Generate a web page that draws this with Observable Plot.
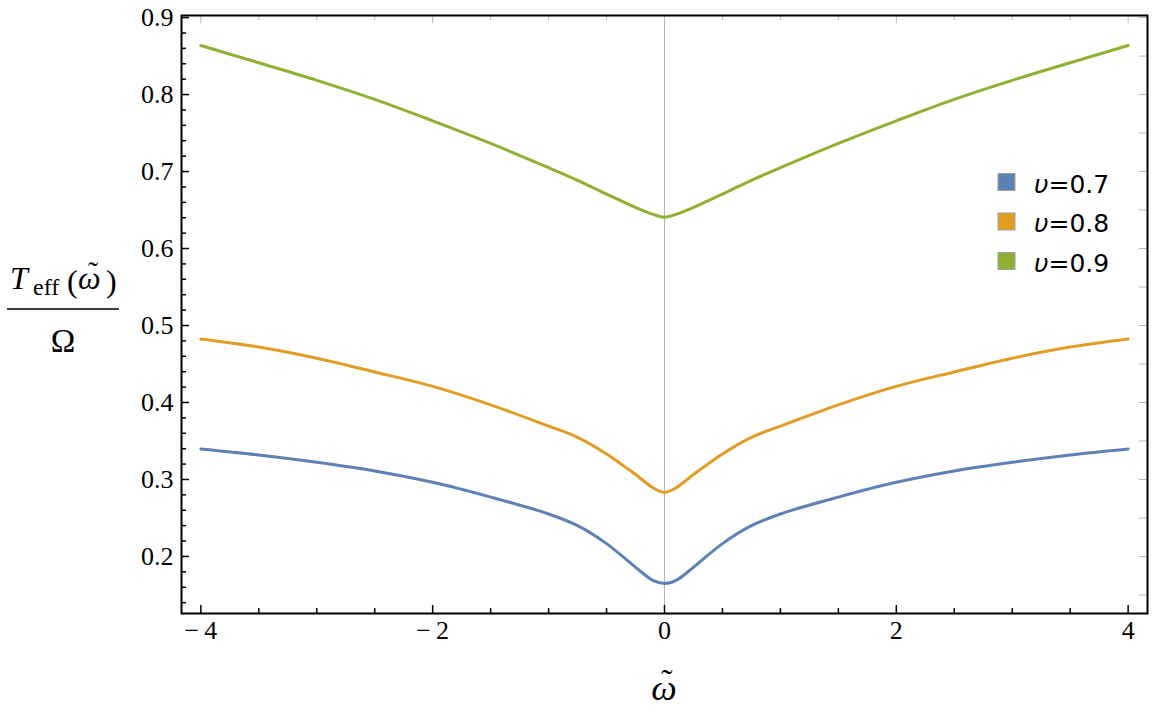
<!DOCTYPE html>
<html><head><meta charset="utf-8">
<script src="https://cdn.jsdelivr.net/npm/d3@7"></script>
<script src="https://cdn.jsdelivr.net/npm/@observablehq/plot@0.6"></script>
<style>body{margin:0;background:#fff;} #chart{width:1159px;height:719px;}</style>
</head><body><div id="chart"></div>
<script>
// ---- data ----
const omega = [-4, -3.5, -3, -2.5, -2, -1.5, -1, -0.75, -0.5, -0.25, -0.1, 0, 0.1, 0.25, 0.5, 0.75, 1, 1.5, 2, 2.5, 3, 3.5, 4];
const teffV07 = [0.3396, 0.3318, 0.3223, 0.3110, 0.2963, 0.2771, 0.2552, 0.2400, 0.2167, 0.1860, 0.1690, 0.1650, 0.1690, 0.1860, 0.2167, 0.2400, 0.2552, 0.2771, 0.2963, 0.3110, 0.3223, 0.3318, 0.3396];
const teffV08 = [0.4825, 0.4720, 0.4575, 0.4397, 0.4209, 0.3970, 0.3693, 0.3548, 0.3332, 0.3064, 0.2893, 0.2832, 0.2893, 0.3064, 0.3332, 0.3548, 0.3693, 0.3970, 0.4209, 0.4397, 0.4575, 0.4720, 0.4825];
const teffV09 = [0.8637, 0.8413, 0.8185, 0.7938, 0.7659, 0.7366, 0.7050, 0.6886, 0.6708, 0.6533, 0.6443, 0.6406, 0.6443, 0.6533, 0.6708, 0.6886, 0.7050, 0.7366, 0.7659, 0.7938, 0.8185, 0.8413, 0.8637];
const seriesNames = ["υ=0.7", "υ=0.8", "υ=0.9"];
const seriesColors = ["#5e81b5", "#e19c24", "#8fb032"];
const xMajorTicks = [-4, -2, 0, 2, 4];
const xMinorTicks = [-3.5, -3, -2.5, -1.5, -1, -0.5, 0.5, 1, 1.5, 2.5, 3, 3.5];
const yMajorTicks = [0.2, 0.3, 0.4, 0.5, 0.6, 0.7, 0.8, 0.9];
const yMinorTicks = [0.14, 0.16, 0.18, 0.22, 0.24, 0.26, 0.28, 0.32, 0.34, 0.36, 0.38, 0.42, 0.44, 0.46, 0.48, 0.52, 0.54, 0.56, 0.58, 0.62, 0.64, 0.66, 0.68, 0.72, 0.74, 0.76, 0.78, 0.82, 0.84, 0.86, 0.88];
const yRightTicks = [0.15, 0.2, 0.25, 0.3, 0.35, 0.4, 0.45, 0.5, 0.55, 0.6, 0.65, 0.7, 0.75, 0.8, 0.85, 0.9];

const seriesValues = [teffV07, teffV08, teffV09];
const rows = seriesNames.flatMap((s, i) => omega.map((w, j) => ({w, t: seriesValues[i][j], s})));

const W = 1159, H = 719, mL = 181, mR = 12, mT = 15, mB = 106;
const plotW = W - mL - mR, plotH = H - mT - mB;
const serif = "'Liberation Serif', 'DejaVu Serif', serif";
const fmtX = d => d < 0 ? "\u2212\u2009" + Math.abs(d) : String(d);
const fmtY = d => d.toFixed(1);

const chart = Plot.plot({
  width: W, height: H,
  marginLeft: mL, marginRight: mR, marginTop: mT, marginBottom: mB,
  style: {background: "white", fontFamily: serif},
  x: {domain: [-4.167, 4.167], axis: null},
  y: {domain: [0.1259, 0.9027], axis: null},
  color: {domain: seriesNames, range: seriesColors},
  marks: [
    Plot.ruleX([0], {stroke: "#b4b4b4", strokeWidth: 1}),
    Plot.line(rows, {x: "w", y: "t", z: "s", stroke: "s", strokeWidth: 3, curve: "catmull-rom"}),
    Plot.tickX(xMajorTicks, {x: d => d, stroke: "black", strokeWidth: 1.5, insetTop: plotH - 8}),
    Plot.tickX(xMinorTicks, {x: d => d, stroke: "black", strokeWidth: 1.5, insetTop: plotH - 5}),
    Plot.tickX(xMajorTicks, {x: d => d, stroke: "#b8b8b8", strokeWidth: 1, insetBottom: plotH - 8}),
    Plot.tickX(xMinorTicks, {x: d => d, stroke: "#b8b8b8", strokeWidth: 1, insetBottom: plotH - 5}),
    Plot.tickY(yMajorTicks, {y: d => d, stroke: "black", strokeWidth: 1.5, insetRight: plotW - 8}),
    Plot.tickY(yMinorTicks, {y: d => d, stroke: "black", strokeWidth: 1.5, insetRight: plotW - 5}),
    Plot.tickY(yRightTicks, {y: d => d, stroke: "#b8b8b8", strokeWidth: 1, insetLeft: plotW - 8}),
    Plot.frame({stroke: "black", strokeWidth: 2}),
    Plot.text(xMajorTicks, {x: d => d, frameAnchor: "bottom", dy: 25, text: fmtX, fontSize: 26, fontFamily: serif, fill: "black"}),
    Plot.text(yMajorTicks, {y: d => d, frameAnchor: "left", textAnchor: "end", dx: -8, text: fmtY, fontSize: 26, fontFamily: serif, fill: "black"})
  ]
});
document.getElementById("chart").appendChild(chart);

const svg = d3.select(chart);
const lab = svg.append("g").attr("font-family", serif).attr("fill", "black").attr("text-anchor", "start");
function put(txt, x, y, size, italic, anchor) {
  return lab.append("text").attr("x", x).attr("y", y).attr("font-size", size)
    .attr("font-style", italic ? "italic" : "normal").attr("text-anchor", anchor || "start").text(txt);
}
// y-axis label: T_eff(ω̃) / Ω
put("T", 10, 289, 32, true);
put("eff", 33, 295, 24, false);
put("(", 67, 292, 32, false);
put("ω", 78, 289, 32, true);
put("\u02DC", 93, 282, 30, false, "middle");
put(")", 106, 292, 32, false);
lab.append("line").attr("x1", 7).attr("x2", 119).attr("y1", 309).attr("y2", 309).attr("stroke", "black").attr("stroke-width", 1.6);
put("Ω", 63, 352, 33, false, "middle");
// x-axis label ω̃
put("ω", 664, 700, 36, true, "middle");
put("\u02DC", 667, 693, 34, false, "middle");

// legend
const leg = svg.append("g").attr("font-family", "'DejaVu Sans', sans-serif").attr("font-size", 25).attr("text-anchor", "start");
seriesNames.forEach((s, i) => {
  const y0 = 173.5 + i * 39.5;
  leg.append("rect").attr("x", 998).attr("y", y0).attr("width", 17).attr("height", 17)
    .attr("fill", seriesColors[i]).attr("stroke", "#a0a0a0").attr("stroke-width", 1);
  const t = leg.append("text").attr("x", 1034).attr("y", y0 + 19);
  t.append("tspan").attr("font-style", "italic").text(s.slice(0, 1));
  t.append("tspan").text(s.slice(1));
});
</script>
</body></html>
